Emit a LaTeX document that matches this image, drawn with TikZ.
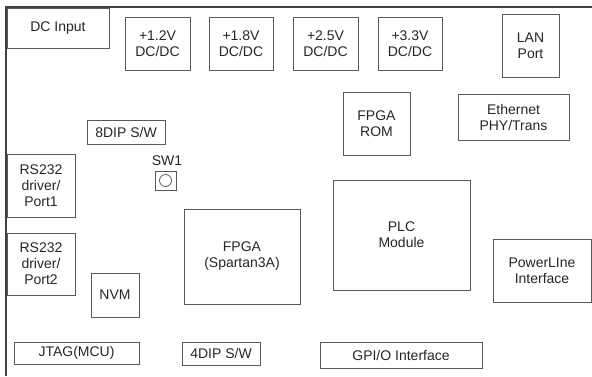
\documentclass[tikz,border=0pt]{standalone}
\usepackage{fontspec}
\setmainfont{Liberation Sans}
\begin{document}
\begin{tikzpicture}[x=1pt, y=-1pt,
    blk/.style={draw=black!65, line width=0.8pt, inner sep=0pt, align=center,
      font=\fontsize{14}{16}\selectfont, text=black!85},
    lbl/.style={inner sep=0pt, font=\fontsize{14}{16}\selectfont, text=black!85}]
    \useasboundingbox (0,0) rectangle (592,376);

    % Board edge (top and left only)
    \draw[black!75, line width=2pt] (592,7) -- (6,7) -- (6,376);

    % Power input and DC/DC converters
    \node[blk, minimum width=102, minimum height=40] (dcin) at (58,28) {DC Input};
    \node[blk, minimum width=65, minimum height=53] (dc12) at (157.5,43.5) {+1.2V\\DC/DC};
    \node[blk, minimum width=64, minimum height=53] (dc18) at (241,43.5) {+1.8V\\DC/DC};
    \node[blk, minimum width=65, minimum height=53] (dc25) at (325.5,43.5) {+2.5V\\DC/DC};
    \node[blk, minimum width=64, minimum height=53] (dc33) at (410,43.5) {+3.3V\\DC/DC};

    % Network side
    \node[blk, minimum width=57, minimum height=63] (lan) at (530.5,45.5) {LAN\\Port};
    \node[blk, minimum width=111, minimum height=46] (eth) at (513.5,117) {Ethernet\\PHY/Trans};
    \node[blk, minimum width=67, minimum height=63] (rom) at (376.5,123.5) {FPGA\\ROM};

    % Switches
    \node[blk, minimum width=78, minimum height=24] (dip8) at (126,132) {8DIP S/W};
    \node[lbl] (sw1lbl) at (167,161) {SW1};
    \node[draw=black!65, line width=0.8pt, minimum width=21, minimum height=19, inner sep=0pt] (sw1) at (165.5,180.5) {};
    \draw[black!65, line width=0.8pt] (sw1.center) circle (6);

    % Serial ports and memory
    \node[blk, minimum width=68, minimum height=63] (rs1) at (41,185.5) {RS232\\driver/\\Port1};
    \node[blk, minimum width=68, minimum height=62] (rs2) at (41,264) {RS232\\driver/\\Port2};
    \node[blk, minimum width=48, minimum height=44] (nvm) at (115,295) {NVM};

    % Main devices
    \node[blk, minimum width=116, minimum height=95] (fpga) at (242,256.5) {FPGA\\(Spartan3A)};
    \node[blk, minimum width=137, minimum height=110] (plc) at (401.5,235) {PLC\\Module};
    \node[blk, minimum width=98, minimum height=63] (pwl) at (542,270.5) {PowerLIne\\Interface};

    % Bottom row
    \node[blk, minimum width=125, minimum height=22] (jtag) at (76.5,353) {JTAG(MCU)};
    \node[blk, minimum width=78, minimum height=23] (dip4) at (221,353.5) {4DIP S/W};
    \node[blk, minimum width=162, minimum height=26] (gpio) at (401,355) {GPI/O Interface};

\end{tikzpicture}
\end{document}
